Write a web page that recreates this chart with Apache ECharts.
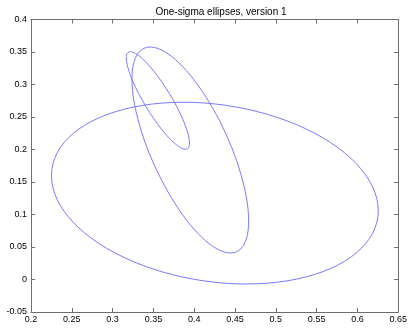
<!DOCTYPE html>
<html>
<head>
<meta charset="utf-8">
<script src="https://cdn.jsdelivr.net/npm/echarts@6/dist/echarts.min.js"></script>
<style>
html,body{margin:0;padding:0;background:#fff;}
#chart{width:410px;height:330px;}
</style>
</head>
<body>
<div id="chart"></div>
<script>
// Axis ranges
const xMin = 0.2, xMax = 0.65, xStep = 0.05;
const yMin = -0.05, yMax = 0.4, yStep = 0.05;
const titleText = 'One-sigma ellipses, version 1';

// Large, wide ellipse
const bigX = [0.4253, 0.3735, 0.3252, 0.2837, 0.2519, 0.2319, 0.2251, 0.2319, 0.2519, 0.2837, 0.3252, 0.3735, 0.4253, 0.4771, 0.5254, 0.5669, 0.5987, 0.6187, 0.6255, 0.6187, 0.5987, 0.5669, 0.5254, 0.4771, 0.4253];
const bigY = [0.2701, 0.2724, 0.2652, 0.2490, 0.2249, 0.1945, 0.1599, 0.1235, 0.0877, 0.0550, 0.0276, 0.0074, -0.0043, -0.0066, 0.0006, 0.0168, 0.0409, 0.0713, 0.1059, 0.1423, 0.1781, 0.2108, 0.2382, 0.2584, 0.2701];

// Small, narrow ellipse (upper left)
const smallX = [0.3749, 0.3655, 0.3555, 0.3455, 0.3362, 0.3281, 0.3220, 0.3181, 0.3168, 0.3181, 0.3220, 0.3281, 0.3362, 0.3455, 0.3555, 0.3655, 0.3749, 0.3829, 0.3890, 0.3929, 0.3942, 0.3929, 0.3890, 0.3829, 0.3749];
const smallY = [0.2747, 0.2941, 0.3123, 0.3280, 0.3401, 0.3477, 0.3505, 0.3481, 0.3408, 0.3290, 0.3136, 0.2956, 0.2761, 0.2567, 0.2385, 0.2228, 0.2107, 0.2031, 0.2003, 0.2027, 0.2100, 0.2218, 0.2372, 0.2553, 0.2747];

// Long, tilted ellipse
const longX = [0.4458, 0.4310, 0.4137, 0.3952, 0.3767, 0.3595, 0.3446, 0.3333, 0.3261, 0.3237, 0.3261, 0.3333, 0.3446, 0.3595, 0.3767, 0.3952, 0.4137, 0.4310, 0.4458, 0.4571, 0.4643, 0.4667, 0.4643, 0.4571, 0.4458];
const longY = [0.2035, 0.2444, 0.2821, 0.3143, 0.3386, 0.3534, 0.3576, 0.3511, 0.3343, 0.3082, 0.2747, 0.2361, 0.1949, 0.1541, 0.1163, 0.0841, 0.0598, 0.0451, 0.0408, 0.0473, 0.0641, 0.0902, 0.1237, 0.1624, 0.2035];

function pairs(xs, ys) { return xs.map((x, i) => [x, ys[i]]); }

const lineColor = '#7a7aff';
const axisColor = '#6e6e6e';
const font = 'Arial, "Liberation Sans", Helvetica, sans-serif';

function mkX(pos, showLabel) {
  return {
    type: 'value', position: pos, min: xMin, max: xMax, interval: xStep,
    axisLine: { show: true, onZero: false, lineStyle: { color: axisColor, width: 1 } },
    axisTick: { show: true, inside: true, length: 4, lineStyle: { color: axisColor } },
    axisLabel: { show: showLabel, color: '#000', fontSize: 9, fontFamily: font, margin: 3 },
    splitLine: { show: false }
  };
}
function mkY(pos, showLabel) {
  return {
    type: 'value', position: pos, min: yMin, max: yMax, interval: yStep,
    axisLine: { show: true, onZero: false, lineStyle: { color: axisColor, width: 1 } },
    axisTick: { show: true, inside: true, length: 4, lineStyle: { color: axisColor } },
    axisLabel: { show: showLabel, color: '#000', fontSize: 9, fontFamily: font, margin: 4 },
    splitLine: { show: false }
  };
}

// Closed curve through the read points: each data item draws the smooth
// (Catmull-Rom) segment to the next point, positioned via the axis scales.
function mkSeries(name, xs, ys) {
  const data = pairs(xs, ys);
  const n = data.length - 1; // last point repeats the first
  return {
    name: name, type: 'custom', xAxisIndex: 0, yAxisIndex: 0,
    data: data, encode: { x: 0, y: 1 }, animation: false,
    renderItem: function (params, api) {
      const i = params.dataIndex;
      if (i >= n) return null;
      const P = k => api.coord(data[((k % n) + n) % n]);
      const p0 = P(i - 1), p1 = P(i), p2 = P(i + 1), p3 = P(i + 2);
      return {
        type: 'bezierCurve',
        shape: {
          x1: p1[0], y1: p1[1], x2: p2[0], y2: p2[1],
          cpx1: p1[0] + (p2[0] - p0[0]) / 6, cpy1: p1[1] + (p2[1] - p0[1]) / 6,
          cpx2: p2[0] - (p3[0] - p1[0]) / 6, cpy2: p2[1] - (p3[1] - p1[1]) / 6
        },
        style: { stroke: lineColor, fill: null, lineWidth: 1 }
      };
    }
  };
}

const chart = echarts.init(document.getElementById('chart'), null, { renderer: 'canvas' });
chart.setOption({
  animation: false,
  backgroundColor: '#fff',
  title: {
    text: titleText, left: 216, top: 2, textAlign: 'center',
    textStyle: { fontSize: 10, fontWeight: 'normal', color: '#000', fontFamily: font }
  },
  grid: { left: 31, right: 8, top: 19.5, bottom: 18, containLabel: false },
  xAxis: [mkX('bottom', true), mkX('top', false)],
  yAxis: [mkY('left', true), mkY('right', false)],
  series: [
    mkSeries('big', bigX, bigY),
    mkSeries('long', longX, longY),
    mkSeries('small', smallX, smallY)
  ]
});
</script>
</body>
</html>
